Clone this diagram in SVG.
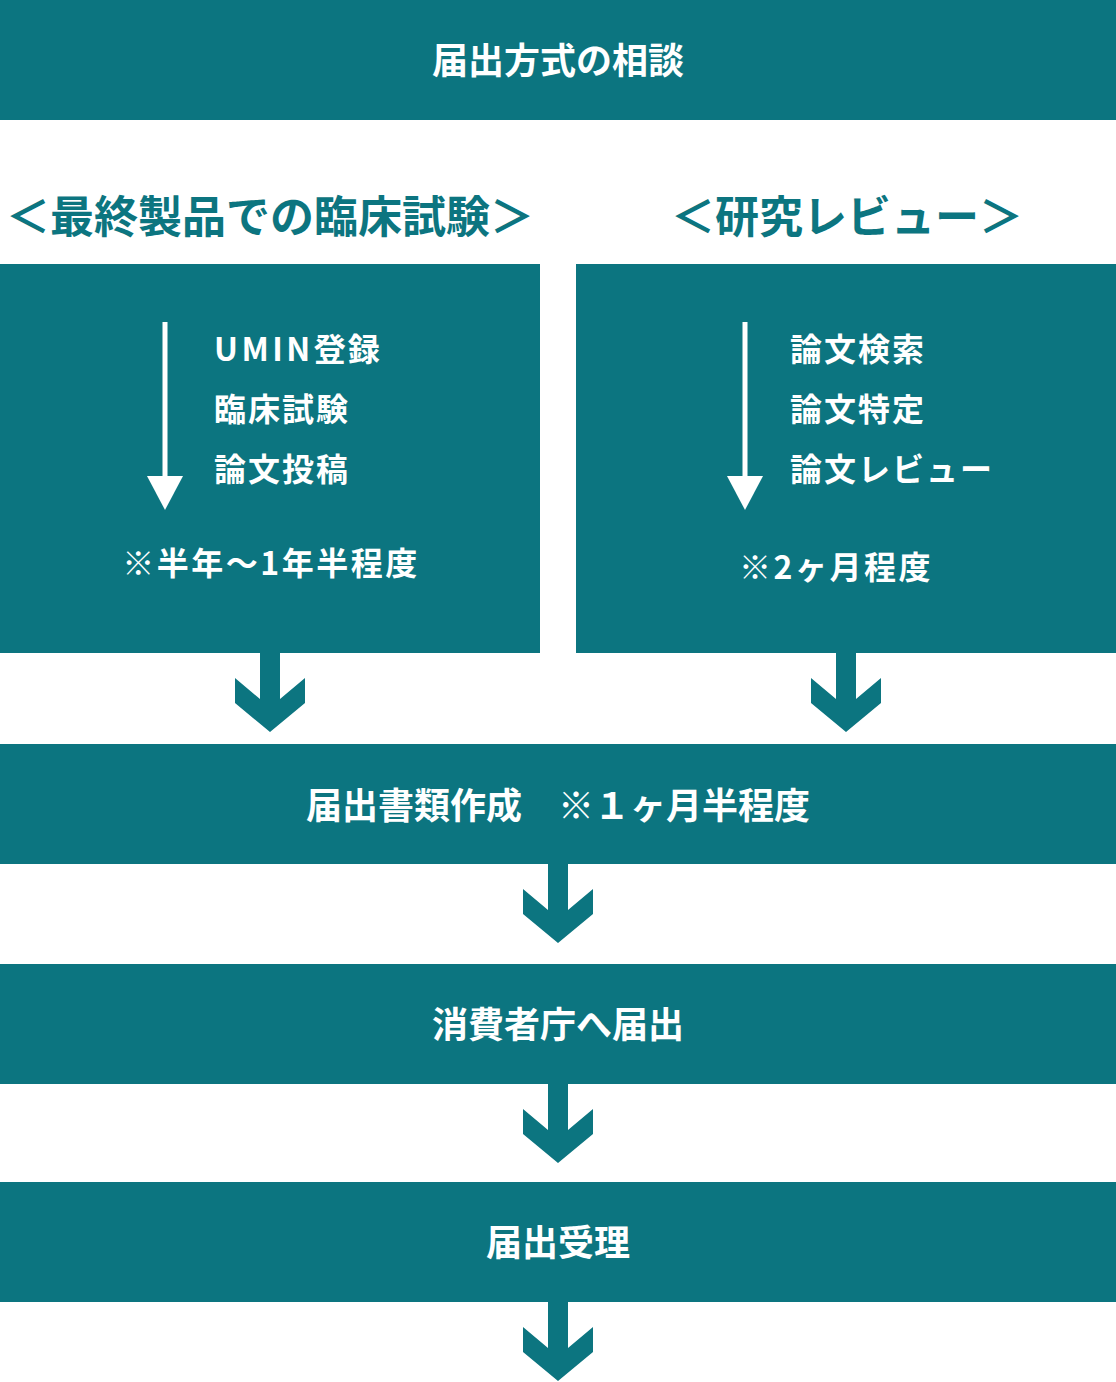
<svg xmlns="http://www.w3.org/2000/svg" width="1116" height="1382" viewBox="0 0 1116 1382">
<defs>
<style>
.box{fill:#0c7580}
.t{font-family:"Noto Sans CJK JP","Noto Sans",sans-serif;font-weight:700;fill:#fff;dominant-baseline:central}
.bar{font-size:36px;text-anchor:middle}
.head{font-size:44px;text-anchor:middle;fill:#0c7580}
.item{font-size:32px;letter-spacing:2px}
.note{font-size:32px;text-anchor:middle;letter-spacing:2.5px}
.chev{fill:#0c7580}
.wa{fill:#fff}
</style>
<polygon id="chevron" points="-10,0 10,0 10,46 35,25 35,50 0,79 -35,50 -35,25 -10,46"/>
</defs>
<rect width="1116" height="1382" fill="#fff"/>
<g id="n1"><rect class="box" x="0" y="0" width="1116" height="120"/><text class="t bar" x="558" y="58">届出方式の相談</text></g>
<g id="h1"><text class="t head" x="270" y="214">＜最終製品での臨床試験＞</text></g>
<g id="h2"><text class="t head" x="847" y="214">＜研究レビュー＞</text></g>
<g id="n2"><rect class="box" x="0" y="264" width="540" height="389"/>
<rect class="wa" x="162.5" y="322" width="5" height="160"/><polygon class="wa" points="147,476 183,476 165,510"/>
<text class="t item" x="214" y="347"><tspan letter-spacing="3.5px">UMIN</tspan>登録</text>
<text class="t item" x="214" y="407">臨床試験</text>
<text class="t item" x="214" y="467">論文投稿</text>
<text class="t note" x="271" y="561">※半年〜1年半程度</text></g>
<g id="n3"><rect class="box" x="576" y="264" width="540" height="389"/>
<rect class="wa" x="742.5" y="322" width="5" height="160"/><polygon class="wa" points="727,476 763,476 745,510"/>
<text class="t item" x="790" y="347">論文検索</text>
<text class="t item" x="790" y="407">論文特定</text>
<text class="t item" x="790" y="467">論文レビュー</text>
<text class="t note" x="836" y="565" letter-spacing="3.5px">※2ヶ月程度</text></g>
<g id="n4"><rect class="box" x="0" y="744" width="1116" height="120"/><text class="t bar" x="558" y="803">届出書類作成　※１ヶ月半程度</text></g>
<g id="n5"><rect class="box" x="0" y="964" width="1116" height="120"/><text class="t bar" x="558" y="1022">消費者庁へ届出</text></g>
<g id="n6"><rect class="box" x="0" y="1182" width="1116" height="120"/><text class="t bar" x="558" y="1240">届出受理</text></g>
<g id="connectors" class="chev">
<use href="#chevron" x="270" y="653"/>
<use href="#chevron" x="846" y="653"/>
<use href="#chevron" x="558" y="864"/>
<use href="#chevron" x="558" y="1084"/>
<use href="#chevron" x="558" y="1302"/>
</g>
</svg>
